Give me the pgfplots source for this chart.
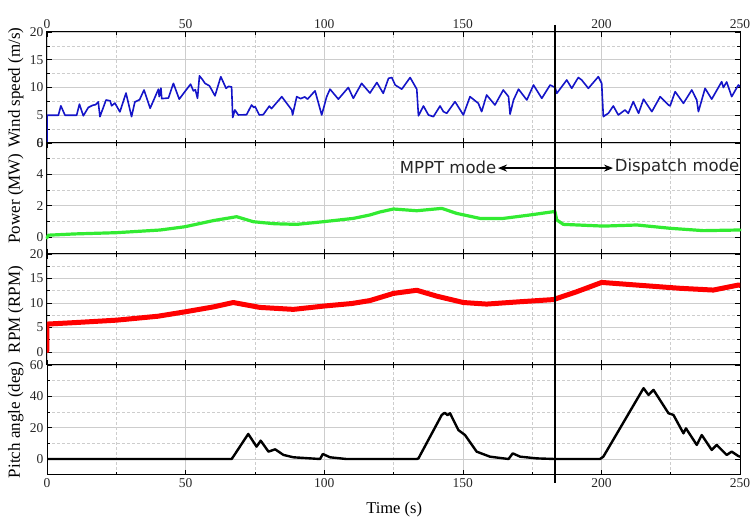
\documentclass[border=0pt]{standalone}
\usepackage{pgfplots}
\pgfplotsset{compat=1.18}
\usepackage{fontspec}
\setmainfont{Liberation Serif}
\newfontfamily\annfont{DejaVu Sans}
\usetikzlibrary{arrows.meta}

\definecolor{gridc}{RGB}{205,205,205}
\definecolor{windc}{RGB}{20,20,200}
\definecolor{powc}{RGB}{50,235,50}

\pgfplotsset{
  panel/.style={
    scale only axis, width=693pt,
    xmin=0, xmax=250,
    xtick={0,50,...,250}, minor x tick num=1,
    minor y tick num=1,
    grid=both,
    major grid style={gridc, line width=0.6pt},
    minor grid style={gridc, line width=0.6pt, dash pattern=on 3pt off 2pt},
    tick align=inside,
    major tick length=5pt, minor tick length=3pt,
    every tick/.style={black, line width=0.6pt},
    axis line style={black, line width=1pt},
    tick label style={font=\fontsize{13.5}{15}\selectfont, text=black!85},
    /pgf/number format/assume math mode=true,
    ylabel style={at={(axis description cs:-0.045,0.5)}, anchor=center,
      font=\fontsize{17}{19}\selectfont},
    every axis plot/.append style={line join=round, line cap=round},
    clip=true,
  },
}

\begin{document}
\begin{tikzpicture}
\path[use as bounding box] (0,0) rectangle (753pt,-521pt);

% wind speed
\begin{axis}[panel, at={(47pt,-32pt)}, anchor=north west, height=111pt,
  ymin=0, ymax=20, ytick={0,5,...,20},
  xticklabel pos=upper,
  ylabel={Wind speed (m/s)}]
\addplot[windc, line width=1.6pt] coordinates {
(0,0) (0.05,5.0) (4.1,5.0) (5.0,6.7) (6.5,5.0) (10.7,5.0) (11.7,7.0) (13.1,4.9)
(14.9,6.4) (16.5,6.8) (17.5,6.9) (18.5,7.4) (19.1,4.75) (21.3,7.75) (22.8,7.6)
(23.3,6.7) (24.5,7.2) (26.3,5.6) (28.5,9.0) (30.5,4.75) (31.7,7.4) (33.4,7.8)
(35.0,9.55) (37.2,6.25) (40.2,9.7) (40.5,8.35) (41.1,9.9) (41.4,8.0) (43.8,8.1)
(45.6,10.75) (47.7,7.9) (49.8,9.3) (51.8,10.6) (52.8,9.4) (53.5,9.6) (54.3,8.05)
(55.0,12.1) (56.2,11.35) (57.0,10.75) (58.6,10.3) (60.6,8.5) (62.7,11.95)
(64.6,9.85) (65.5,10.2) (66.6,10.1) (67.0,4.6) (67.8,5.95) (69.0,5.05) (72.0,5.1)
(73.8,6.85) (74.6,6.4) (75.1,6.55) (76.6,5.05) (78.0,5.1) (80.2,6.65) (81.0,6.2)
(84.7,8.35) (88.3,5.95) (88.6,5.05) (90.1,8.35) (91.5,8.0) (93.0,8.3) (94.0,7.9)
(96.7,9.4) (99.1,5.05) (100.9,8.35) (102.1,9.7) (105.1,7.9) (108.7,10.0)
(110.5,8.05) (113.5,10.75) (116.5,9.0) (119.0,10.9) (121.3,8.95) (123.2,11.65)
(124.4,11.8) (125.6,10.45) (128.0,9.7) (131.0,11.8) (133.4,9.7) (134.0,4.9)
(135.8,6.67) (137.6,5.05) (139.4,4.75) (141.8,6.67) (143.0,5.65) (144.2,5.35)
(147.2,7.45) (150.2,5.05) (152.6,8.35) (155.6,7.15) (156.8,5.65) (158.6,8.65)
(161.6,6.85) (164.6,9.55) (166.5,8.35) (167.05,5.2) (168.3,7.75) (170.1,9.7)
(173.1,7.75) (175.5,10.45) (178.5,8.05) (181.5,10.45) (183.3,10.0) (183.9,8.95)
(187.5,11.35) (189.3,9.85) (191.1,11.35) (191.7,11.8) (192.9,11.35) (195.3,9.85)
(198.9,11.95) (200.1,10.75) (200.7,4.75) (202.5,5.35) (204.3,6.67) (206.1,5.05)
(208.5,5.95) (209.7,5.35) (211.5,7.45) (213.4,5.35) (215.2,7.9) (218.2,5.65)
(221.2,8.35) (224.2,6.85) (224.8,6.7) (226.6,9.25) (229.6,7.15) (232.6,9.55)
(234.4,7.75) (235.0,5.65) (237.4,9.85) (239.8,7.9) (243.4,11.05) (244.0,10.0)
(245.2,11.0) (247.0,8.35) (249.4,10.45) (250,10.2)
};
\end{axis}

% power
\begin{axis}[panel, at={(47pt,-143pt)}, anchor=north west, height=111pt,
  ymin=-1.08, ymax=6, ytick={0,2,4,6},
  xticklabels={},
  ylabel={Power (MW)}, clip=false]
\addplot[powc, line width=3.2pt] coordinates {
(0,-0.05) (0.5,0.12) (10,0.2) (25.1,0.28) (40.8,0.45) (49.8,0.66) (60,1.05)
(68.4,1.3) (74.4,0.98) (82,0.85) (90.1,0.81) (99.7,0.98) (110.5,1.19)
(116.5,1.41) (120.1,1.6) (125,1.79) (133.4,1.68) (142.4,1.83) (147.8,1.51)
(156.2,1.19) (164.6,1.19) (174.3,1.41) (182.7,1.62) (183.2,1.65) (183.9,1.09)
(186.3,0.81) (200.7,0.70) (212.8,0.77) (224.8,0.56) (236.8,0.41) (249.4,0.45)
(250,0.45)
};
\draw[{Stealth[length=9pt,width=7pt]}-{Stealth[length=9pt,width=7pt]}, line width=1.8pt]
  (axis cs:162.7,4.4) -- (axis cs:204.2,4.4);
\node[anchor=east, inner sep=1pt, text=black!85, font=\annfont\fontsize{16.5}{19}\selectfont]
  at (axis cs:162.5,4.45) {MPPT mode};
\node[anchor=west, inner sep=1pt, text=black!85, font=\annfont\fontsize{16.5}{19}\selectfont]
  at (axis cs:204.4,4.45) {Dispatch mode};
\end{axis}

% rotor speed
\begin{axis}[panel, at={(47pt,-254pt)}, anchor=north west, height=111pt,
  ymin=-2.65, ymax=20, ytick={0,5,...,20},
  xticklabels={},
  ylabel={RPM (RPM)}]
\addplot[red, line width=5pt] coordinates {
(0,0.3) (0,5.7) (10,6.0) (25.1,6.5) (40,7.3) (49.8,8.2) (60,9.2) (67.2,10.1)
(76.8,9.1) (88.9,8.7) (100.3,9.4) (110,9.9) (116.5,10.5) (125,11.96)
(133.4,12.6) (140.6,11.4) (150.2,10.1) (158.6,9.78) (170.7,10.26) (182.7,10.7)
(191.1,12.3) (200.1,14.2) (212.8,13.66) (228.4,13.0) (240.4,12.64)
(249.4,13.66) (250,13.6)
};
\end{axis}

% pitch angle
\begin{axis}[panel, at={(47pt,-365pt)}, anchor=north west, height=110pt,
  ymin=-10.2, ymax=60, ytick={0,20,40,60},
  ylabel={Pitch angle (deg)},
  xlabel={Time (s)},
  xlabel style={at={(axis description cs:0.501,-0.31)}, anchor=center,
    font=\fontsize{16.5}{18}\selectfont}]
\addplot[black, line width=2.4pt] coordinates {
(0,0) (66.6,0) (67.2,1.5) (72.6,16) (75.6,7.9) (77.1,11.7) (79.9,4.7) (82.3,6.2)
(85.3,2.6) (88.9,1.1) (98.5,0) (99.5,3.2) (102.1,1.1) (108,0) (133.4,0)
(134,0.4) (142.4,28.1) (143.5,29.5) (144.5,28) (145.4,29.2) (148.4,18.5)
(150.8,15.3) (155,4.7) (159.8,1.5) (166.5,0) (168,3.6) (170.7,1.5) (176.7,0.4)
(183.3,0) (199.5,0) (200.7,1.5) (215.2,45.2) (217,40.9) (218.8,44.1)
(224.2,29.2) (226,28.1) (229.6,16.4) (230.5,19.6) (234.4,9) (236.2,15.3)
(239.8,5.8) (241.6,9) (245.2,2.6) (247,4.7) (249.4,1.9) (250,1.5)
};
\end{axis}

% mode switch instant
\draw[black, line width=2.6pt] (555pt,-25pt) -- (555pt,-483pt);
\end{tikzpicture}
\end{document}
